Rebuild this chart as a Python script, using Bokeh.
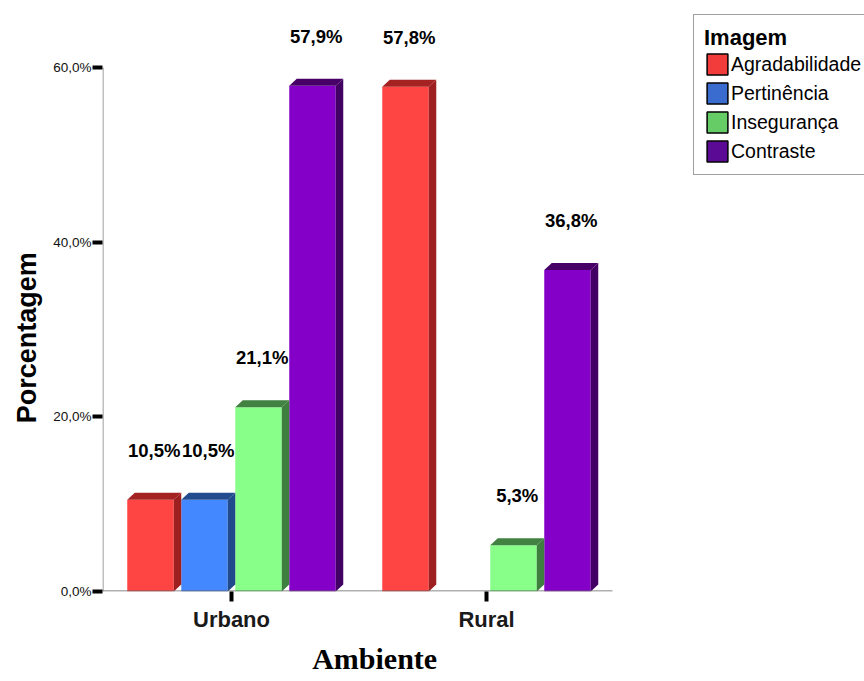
import numpy as np
from bokeh.plotting import figure
from bokeh.models import ColumnDataSource, FixedTicker, LabelSet, Legend, LegendItem, Title
from bokeh.core.properties import value
from bokeh.embed import file_html
from bokeh.resources import INLINE

# ---- data -------------------------------------------------------------
ambientes = ["Urbano", "Rural"]
imagens = ["Agradabilidade", "Pertinência", "Insegurança", "Contraste"]
agradabilidade = [10.5, 57.8]
pertinencia = [10.5, 0.0]
inseguranca = [21.1, 5.3]
contraste = [57.9, 36.8]
y_ticks = [0, 20, 40, 60]
y_tick_labels = ["0,0%", "20,0%", "40,0%", "60,0%"]

# ---- styling ----------------------------------------------------------
front_colors = ["#FF4444", "#4488FF", "#88FF88", "#8400C8"]
side_colors = ["#9E1F1F", "#214A8C", "#3E7E3E", "#430064"]
top_colors = ["#A42222", "#234C8F", "#418141", "#470068"]
legend_colors = ["#F23B3B", "#3A6CCF", "#66CC66", "#5A0A94"]

W, H = 864, 681
FL, FR, FT, FB = 102, 864, 10, 591           # frame edges in pixels
AXIS_TOP_PX = 67                              # pixel row of the 60% tick
AXIS_RIGHT_PX = 612                           # end of the category baseline
px_x = 255.0                                  # pixels per category unit
px_y = (FB - AXIS_TOP_PX) / 60.0              # pixels per percent

x_start = -(231 - FL) / px_x
x_end = x_start + (FR - FL) / px_x
y_end = (FB - FT) / px_y

BAR_W = 46.5 / px_x
STEP = 54.0 / px_x
DX = 7.5 / px_x
DY = 7.0 / px_y
offsets = [(-1.5 + i) * STEP for i in range(4)]

series = [agradabilidade, pertinencia, inseguranca, contraste]

front = dict(left=[], right=[], top=[], color=[])
side = dict(xs=[], ys=[], color=[])
topf = dict(xs=[], ys=[], color=[])
labels = dict(x=[], y=[], text=[])

for si, vals in enumerate(series):
    for ci, v in enumerate(vals):
        if v <= 0:
            continue
        xc = ci + offsets[si]
        x0, x1 = xc - BAR_W / 2, xc + BAR_W / 2
        front["left"].append(x0)
        front["right"].append(x1)
        front["top"].append(v)
        front["color"].append(front_colors[si])
        side["xs"].append([x1, x1 + DX, x1 + DX, x1])
        side["ys"].append([0, DY, v + DY, v])
        side["color"].append(side_colors[si])
        topf["xs"].append([x0, x0 + DX, x1 + DX, x1])
        topf["ys"].append([v, v + DY, v + DY, v])
        topf["color"].append(top_colors[si])
        labels["x"].append(xc + DX / 2)
        labels["y"].append(v + 43.0 / px_y)
        labels["text"].append(f"{v:.1f}".replace(".", ",") + "%")

p = figure(width=W, height=H, x_range=(x_start, x_end), y_range=(0, y_end),
           output_backend="svg", toolbar_location=None,
           min_border_left=FL, min_border_right=W - FR,
           min_border_top=FT, min_border_bottom=H - FB)
p.grid.visible = False
p.outline_line_color = None
p.background_fill_color = "white"
p.border_fill_color = "white"

p.quad(left="left", right="right", bottom=0, top="top", fill_color="color",
       line_color=None, source=ColumnDataSource(front))
p.patches(xs="xs", ys="ys", fill_color="color", line_color=None,
          source=ColumnDataSource(side))
p.patches(xs="xs", ys="ys", fill_color="color", line_color=None,
          source=ColumnDataSource(topf))

# axis lines: the value axis stops at 60%, the category baseline at the last group
p.segment(x0=[x_start + 0.5 / px_x], y0=[0], x1=[x_start + 0.5 / px_x], y1=[60],
          line_color="#808080", line_width=1)
p.segment(x0=[x_start], y0=[0.5 / px_y], x1=[(AXIS_RIGHT_PX - 231) / px_x],
          y1=[0.5 / px_y], line_color="#606060", line_width=1)

p.add_layout(LabelSet(x="x", y="y", text="text", source=ColumnDataSource(labels),
                      text_align="center", text_baseline="alphabetic",
                      text_font=value("Liberation Sans"), text_font_size="18.5px",
                      text_font_style="bold", text_color="black"))

# ---- axes -------------------------------------------------------------
ya = p.yaxis[0]
ya.ticker = FixedTicker(ticks=y_ticks)
ya.major_label_overrides = {t: s for t, s in zip(y_ticks, y_tick_labels)}
ya.minor_tick_line_color = None
ya.major_tick_in = 0
ya.major_tick_out = 10
ya.major_tick_line_width = 4
ya.major_tick_line_color = "black"
ya.axis_line_color = None
ya.major_label_text_font = "Liberation Sans"
ya.major_label_text_font_size = "13.5px"
ya.major_label_text_color = "#111111"
ya.major_label_standoff = 1

xa = p.xaxis[0]
xa.ticker = FixedTicker(ticks=[0, 1])
xa.major_label_overrides = {i: a for i, a in enumerate(ambientes)}
xa.minor_tick_line_color = None
xa.major_tick_in = 0
xa.major_tick_out = 10
xa.major_tick_line_width = 4
xa.major_tick_line_color = "black"
xa.axis_line_color = None
xa.major_label_text_font = "Liberation Sans"
xa.major_label_text_font_size = "22px"
xa.major_label_text_font_style = "bold"
xa.major_label_text_color = "#1a1a1a"
xa.major_label_standoff = 5

# axis titles
p.add_layout(Title(text="Ambiente", align="left", offset=311.7 - FL,
                   text_font="Liberation Serif", text_font_size="30px",
                   text_font_style="bold", text_color="black", standoff=11), "below")
p.add_layout(Title(text="Porcentagem", align="left", offset=FB - 422.7,
                   text_font="Liberation Sans", text_font_size="27px",
                   text_font_style="bold", text_color="black", standoff=18), "left")

# ---- legend -----------------------------------------------------------
# swatch-only renderers: one NaN row each, so only the legend glyph shows
items = []
for name, c in zip(imagens, legend_colors):
    r = p.quad(left=[np.nan], right=[np.nan], bottom=[np.nan], top=[np.nan],
               fill_color=c, line_color="black", line_width=1.5)
    items.append(LegendItem(label=name, renderers=[r]))

legend = Legend(items=items, location=(693 - FL, FB - 175), title="Imagem",
                title_text_font="Liberation Sans", title_text_font_size="22px",
                title_text_font_style="bold", title_text_color="black",
                title_standoff=0,
                label_text_font="Liberation Sans", label_text_font_size="19.5px",
                label_text_color="black",
                glyph_width=26, glyph_height=26, label_standoff=1, spacing=3,
                padding=10, margin=0, border_line_color="#404040",
                border_line_width=1, background_fill_color="white",
                background_fill_alpha=1.0)
p.add_layout(legend)

open("out.html", "w").write(file_html(p, INLINE))
